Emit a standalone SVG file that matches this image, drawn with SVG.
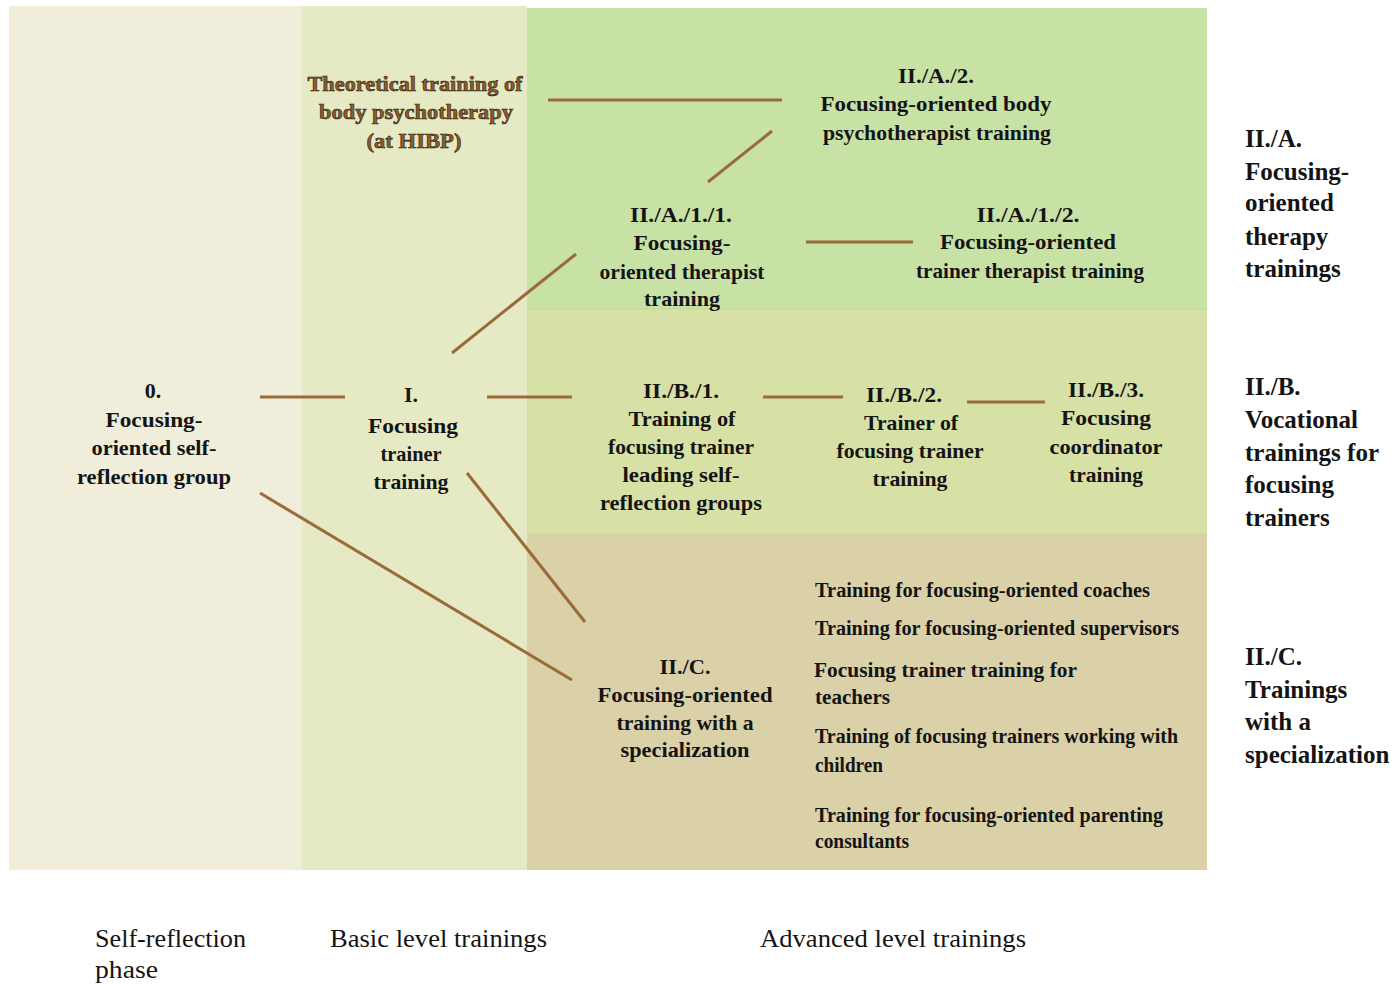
<svg xmlns="http://www.w3.org/2000/svg" width="1394" height="984" viewBox="0 0 1394 984">
  <style>
    text { font-family: "Liberation Serif", "Times New Roman", serif; fill: #141414; }
    .node { font-size: 22px; font-weight: bold; text-anchor: middle; }
    .item { font-size: 20px; font-weight: bold; }
    .side { font-size: 25px; font-weight: bold; }
    .phase { font-size: 26px; }
    .theory { font-size: 22px; font-weight: bold; text-anchor: middle; fill: #8a5d2e; stroke: #2a1c0c; stroke-width: 0.6; }
    .link { stroke: #9b6a3a; stroke-width: 3; fill: none; stroke-linecap: butt; }
  </style>

  <rect width="1394" height="984" fill="#ffffff"/>

  <!-- column and band backgrounds -->
  <g id="panels">
    <rect x="9" y="6" width="293" height="864" fill="#f0eedb"/>
    <rect x="302" y="6" width="225" height="864" fill="#e5eac5"/>
    <rect x="527" y="8" width="680" height="301" fill="#c8e2a6"/>
    <rect x="527" y="309" width="680" height="224" fill="#d7e1a5"/>
    <line x1="527" y1="309" x2="1207" y2="309" stroke="#bfd898" stroke-width="1"/>
    <rect x="527" y="533" width="680" height="337" fill="#dad1a8"/>
  </g>

  <!-- connectors -->
  <g id="connectors" class="link">
    <line x1="548" y1="100" x2="782" y2="100"/>
    <line x1="708" y1="182" x2="772" y2="131"/>
    <line x1="806" y1="242" x2="913" y2="242"/>
    <line x1="452" y1="353" x2="576" y2="254"/>
    <line x1="260" y1="397" x2="345" y2="397"/>
    <line x1="487" y1="397" x2="572" y2="397"/>
    <line x1="763" y1="397" x2="843" y2="397"/>
    <line x1="967" y1="402" x2="1045" y2="402"/>
    <line x1="260" y1="493" x2="572" y2="680"/>
    <line x1="467" y1="473" x2="585" y2="622"/>
  </g>

  <g id="node-theory">
    <text class="theory" x="415" y="91" textLength="215" lengthAdjust="spacingAndGlyphs">Theoretical training of</text>
    <text class="theory" x="416" y="119" textLength="194" lengthAdjust="spacingAndGlyphs">body psychotherapy</text>
    <text class="theory" x="414" y="148" textLength="95" lengthAdjust="spacingAndGlyphs">(at HIBP)</text>
  </g>

  <g id="node-IIA2">
    <text class="node" x="936" y="83" textLength="76" lengthAdjust="spacingAndGlyphs">II./A./2.</text>
    <text class="node" x="936" y="111" textLength="231" lengthAdjust="spacingAndGlyphs">Focusing-oriented body</text>
    <text class="node" x="937" y="140" textLength="228" lengthAdjust="spacingAndGlyphs">psychotherapist training</text>
  </g>

  <g id="node-IIA11">
    <text class="node" x="681" y="222" textLength="102" lengthAdjust="spacingAndGlyphs">II./A./1./1.</text>
    <text class="node" x="682" y="250" textLength="97" lengthAdjust="spacingAndGlyphs">Focusing-</text>
    <text class="node" x="682" y="279" textLength="165" lengthAdjust="spacingAndGlyphs">oriented therapist</text>
    <text class="node" x="682" y="306" textLength="76" lengthAdjust="spacingAndGlyphs">training</text>
  </g>

  <g id="node-IIA12">
    <text class="node" x="1028" y="222" textLength="103" lengthAdjust="spacingAndGlyphs">II./A./1./2.</text>
    <text class="node" x="1028" y="249" textLength="176" lengthAdjust="spacingAndGlyphs">Focusing-oriented</text>
    <text class="node" x="1030" y="278" textLength="228" lengthAdjust="spacingAndGlyphs">trainer therapist training</text>
  </g>

  <g id="node-0">
    <text class="node" x="153" y="398">0.</text>
    <text class="node" x="154" y="427" textLength="97" lengthAdjust="spacingAndGlyphs">Focusing-</text>
    <text class="node" x="154" y="455" textLength="125" lengthAdjust="spacingAndGlyphs">oriented self-</text>
    <text class="node" x="154" y="484" textLength="154" lengthAdjust="spacingAndGlyphs">reflection group</text>
  </g>

  <g id="node-I">
    <text class="node" x="411" y="402">I.</text>
    <text class="node" x="413" y="433" textLength="90" lengthAdjust="spacingAndGlyphs">Focusing</text>
    <text class="node" x="411" y="461" textLength="61" lengthAdjust="spacingAndGlyphs">trainer</text>
    <text class="node" x="411" y="489" textLength="75" lengthAdjust="spacingAndGlyphs">training</text>
  </g>

  <g id="node-IIB1">
    <text class="node" x="681" y="398" textLength="76" lengthAdjust="spacingAndGlyphs">II./B./1.</text>
    <text class="node" x="682" y="426" textLength="107" lengthAdjust="spacingAndGlyphs">Training of</text>
    <text class="node" x="681" y="454" textLength="146" lengthAdjust="spacingAndGlyphs">focusing trainer</text>
    <text class="node" x="681" y="482" textLength="117" lengthAdjust="spacingAndGlyphs">leading self-</text>
    <text class="node" x="681" y="510" textLength="162" lengthAdjust="spacingAndGlyphs">reflection groups</text>
  </g>

  <g id="node-IIB2">
    <text class="node" x="904" y="402" textLength="76" lengthAdjust="spacingAndGlyphs">II./B./2.</text>
    <text class="node" x="911" y="430" textLength="94" lengthAdjust="spacingAndGlyphs">Trainer of</text>
    <text class="node" x="910" y="458" textLength="147" lengthAdjust="spacingAndGlyphs">focusing trainer</text>
    <text class="node" x="910" y="486" textLength="75" lengthAdjust="spacingAndGlyphs">training</text>
  </g>

  <g id="node-IIB3">
    <text class="node" x="1106" y="397" textLength="76" lengthAdjust="spacingAndGlyphs">II./B./3.</text>
    <text class="node" x="1106" y="425" textLength="90" lengthAdjust="spacingAndGlyphs">Focusing</text>
    <text class="node" x="1106" y="454" textLength="113" lengthAdjust="spacingAndGlyphs">coordinator</text>
    <text class="node" x="1106" y="482" textLength="74" lengthAdjust="spacingAndGlyphs">training</text>
  </g>

  <g id="node-IIC">
    <text class="node" x="685" y="674" textLength="51" lengthAdjust="spacingAndGlyphs">II./C.</text>
    <text class="node" x="685" y="702" textLength="175" lengthAdjust="spacingAndGlyphs">Focusing-oriented</text>
    <text class="node" x="685" y="730" textLength="137" lengthAdjust="spacingAndGlyphs">training with a</text>
    <text class="node" x="685" y="757" textLength="129" lengthAdjust="spacingAndGlyphs">specialization</text>
  </g>

  <!-- specialization list -->
  <g id="node-IIC-list">
    <text class="item" x="815" y="597" textLength="335" lengthAdjust="spacingAndGlyphs">Training for focusing-oriented  coaches</text>
    <text class="item" x="815" y="635" textLength="364" lengthAdjust="spacingAndGlyphs">Training for focusing-oriented  supervisors</text>
    <text class="item" x="814" y="677" textLength="263" lengthAdjust="spacingAndGlyphs">Focusing trainer training for</text>
    <text class="item" x="815" y="704" textLength="75" lengthAdjust="spacingAndGlyphs">teachers</text>
    <text class="item" x="815" y="743" textLength="363" lengthAdjust="spacingAndGlyphs">Training of focusing trainers  working with</text>
    <text class="item" x="815" y="772" textLength="68" lengthAdjust="spacingAndGlyphs">children</text>
    <text class="item" x="815" y="822" textLength="348" lengthAdjust="spacingAndGlyphs">Training for focusing-oriented  parenting</text>
    <text class="item" x="815" y="848" textLength="94" lengthAdjust="spacingAndGlyphs">consultants</text>
  </g>

  <!-- row titles -->
  <g id="label-IIA">
    <text class="side" x="1245" y="147">II./A.</text>
    <text class="side" x="1245" y="180">Focusing-</text>
    <text class="side" x="1245" y="211">oriented</text>
    <text class="side" x="1245" y="245">therapy</text>
    <text class="side" x="1245" y="277">trainings</text>
  </g>
  <g id="label-IIB">
    <text class="side" x="1245" y="395">II./B.</text>
    <text class="side" x="1245" y="428">Vocational</text>
    <text class="side" x="1245" y="461">trainings for</text>
    <text class="side" x="1245" y="493">focusing</text>
    <text class="side" x="1245" y="526">trainers</text>
  </g>
  <g id="label-IIC">
    <text class="side" x="1245" y="665">II./C.</text>
    <text class="side" x="1245" y="698">Trainings</text>
    <text class="side" x="1245" y="730">with a</text>
    <text class="side" x="1245" y="763">specialization</text>
  </g>

  <!-- column titles -->
  <g id="phases">
    <text class="phase" x="95" y="947" textLength="151" lengthAdjust="spacingAndGlyphs">Self-reflection</text>
    <text class="phase" x="95" y="978" textLength="63" lengthAdjust="spacingAndGlyphs">phase</text>
    <text class="phase" x="330" y="947" textLength="217" lengthAdjust="spacingAndGlyphs">Basic level trainings</text>
    <text class="phase" x="760" y="947" textLength="266" lengthAdjust="spacingAndGlyphs">Advanced level trainings</text>
  </g>
</svg>
